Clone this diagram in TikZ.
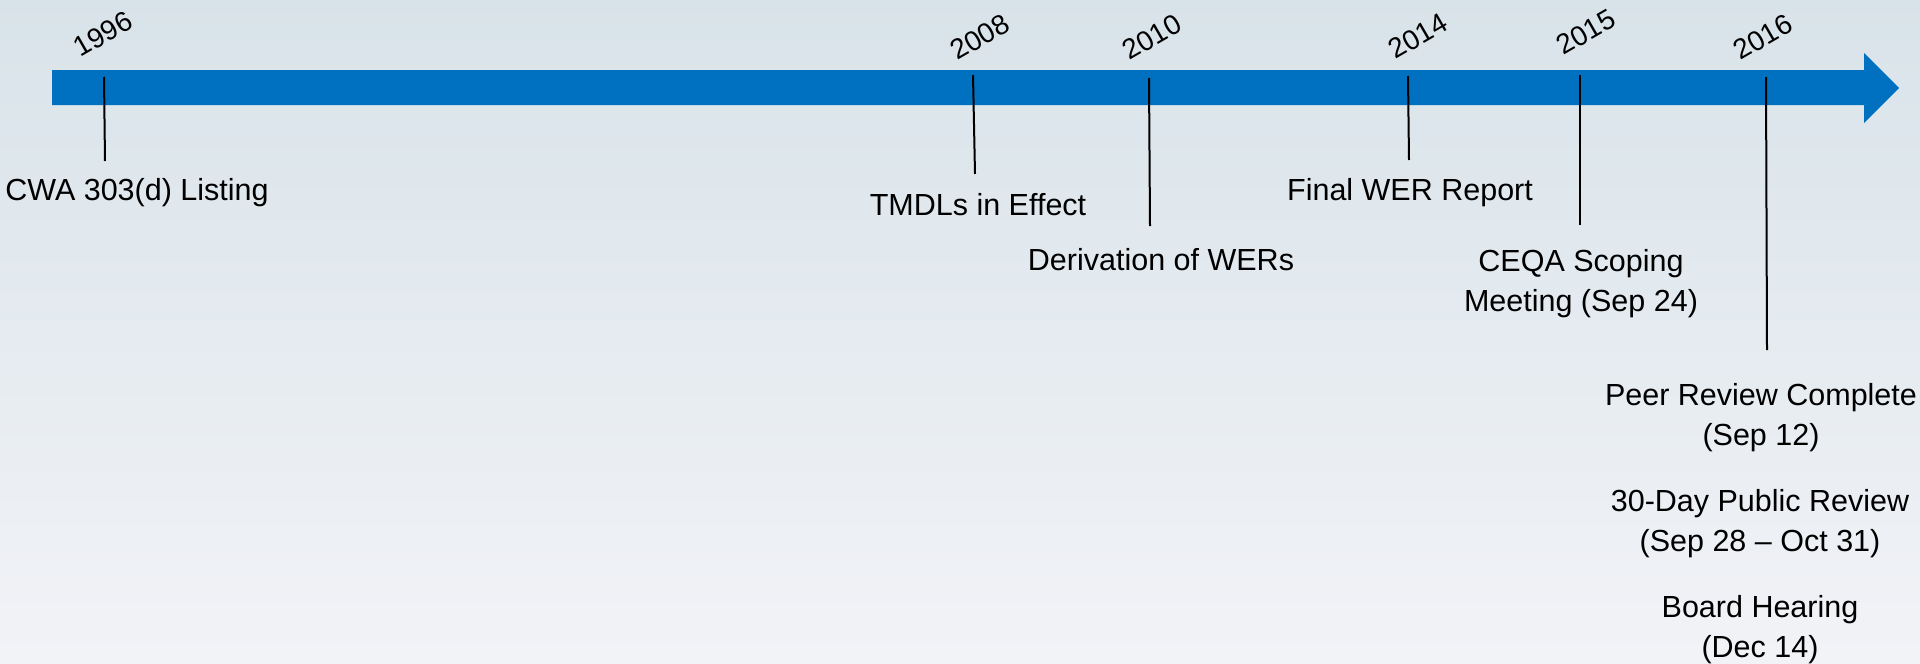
\documentclass[tikz,border=0pt]{standalone}
\usepackage{fontspec}
\setmainfont{Liberation Sans}
\usepackage{xcolor}
\usepackage{tikz}

\definecolor{barblue}{HTML}{0070C0}
\definecolor{bgtop}{HTML}{D8E3E9}
\definecolor{bgmid}{HTML}{E4EAEE}
\definecolor{bgbot}{HTML}{F2F3F7}

\begin{document}
\begin{tikzpicture}[x=1pt, y=-1pt,
        year/.style={rotate=30, inner sep=0pt, font=\fontsize{28}{32}\selectfont},
        event/.style={anchor=north, inner sep=0pt, align=center, font=\fontsize{30.5}{40.5}\selectfont},
        tick/.style={line width=2pt, black}]
        % background
        \shade[top color=bgtop, middle color=bgmid, bottom color=bgbot] (0,0) rectangle (1920,664);
        \useasboundingbox (0,0) rectangle (1920,664);
        % timeline arrow
        \fill[barblue] (52,70) -- (1864,70) -- (1864,53) -- (1899,88) -- (1864,123) -- (1864,105) -- (52,105) -- cycle;
        % years
        \node[year] (y96) at (103,34) {1996};
        \node[year] (y08) at (980,37) {2008};
        \node[year] (y10) at (1152,37) {2010};
        \node[year] (y14) at (1418,36) {2014};
        \node[year] (y15) at (1586,32) {2015};
        \node[year] (y16) at (1763,37) {2016};
        % events
        \node[event] (cwa) at (137,178) {CWA 303(d) Listing};
        \node[event] (tmdl) at (978,193) {TMDLs in Effect};
        \node[event] (wer) at (1161,248) {Derivation of WERs};
        \node[event] (final) at (1410,178) {Final WER Report};
        \node[event] (ceqa) at (1581,249) {CEQA Scoping\\Meeting (Sep 24)};
        \node[event] (peer) at (1761,383) {Peer Review Complete\\(Sep 12)};
        \node[event] (public) at (1760,489) {30-Day Public Review\\(Sep 28 -- Oct 31)};
        \node[event] (board) at (1760,595) {Board Hearing\\(Dec 14)};
        % ticks
        \coordinate (t96) at (104,77);
        \coordinate (b96) at (105,161);
        \coordinate (t08) at (973,75);
        \coordinate (b08) at (975,174);
        \coordinate (t10) at (1149,78);
        \coordinate (b10) at (1150,226);
        \coordinate (t14) at (1408,76);
        \coordinate (b14) at (1409,160);
        \coordinate (t15) at (1580,75);
        \coordinate (b15) at (1580,225);
        \coordinate (t16) at (1766,77);
        \coordinate (b16) at (1767,350);
        \draw[tick] (t96) -- (b96);
        \draw[tick] (t08) -- (b08);
        \draw[tick] (t10) -- (b10);
        \draw[tick] (t14) -- (b14);
        \draw[tick] (t15) -- (b15);
        \draw[tick] (t16) -- (b16);
    \end{tikzpicture}
\end{document}
